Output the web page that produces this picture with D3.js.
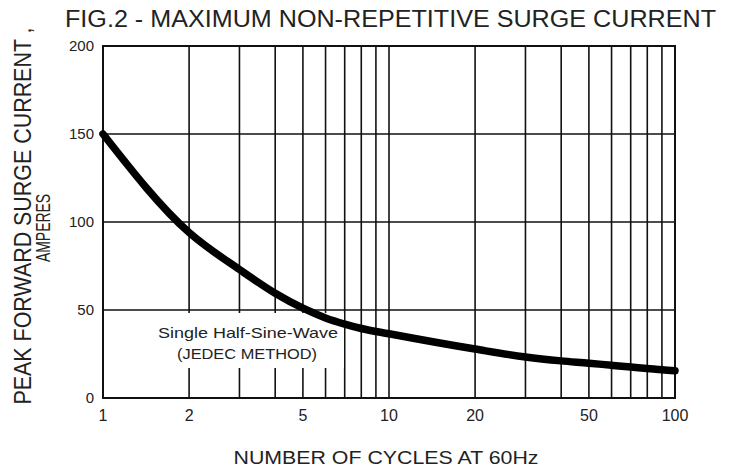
<!DOCTYPE html>
<html>
<head>
<meta charset="utf-8">
<script src="https://cdn.jsdelivr.net/npm/d3@7"></script>
<style>
  body { margin: 0; background: #fff; }
  svg text { font-family: "Liberation Sans", Arial, sans-serif; fill: #222; }
</style>
</head>
<body>
<div class="chart-wrapper"></div>
<script>
// curve
const cycles = [1, 2, 3, 4, 5, 6, 7, 8, 10, 20, 30, 40, 50, 60, 70, 80, 90, 100];
const amps = [150, 94, 73, 59.5, 51, 45.5, 42, 39.5, 36.5, 27.8, 23.3, 21.1, 19.8, 18.6, 17.6, 16.8, 16, 15.5];

const xGrid = [2, 3, 4, 5, 6, 7, 8, 9, 10, 20, 30, 40, 50, 60, 70, 80, 90];
const xLabels = [1, 2, 5, 10, 20, 50, 100];
const yTicks = [0, 50, 100, 150, 200];

const width = 738, height = 473;
const margin = { top: 46, right: 63, bottom: 75, left: 103 };
const w = width - margin.left - margin.right,
  h = height - margin.top - margin.bottom;

const svg = d3.select('.chart-wrapper')
  .append('svg')
  .attr('width', width)
  .attr('height', height);

const x = d3.scaleLog().domain([1, 100]).range([0, w]);
const y = d3.scaleLinear().domain([0, 200]).range([h, 0]);

const g = svg.append('g')
  .attr('transform', 'translate(' + margin.left + ',' + margin.top + ')');

// grid
g.append('g')
  .selectAll('line')
  .data(xGrid)
  .enter()
  .append('line')
  .attr('x1', d => x(d)).attr('x2', d => x(d))
  .attr('y1', 0).attr('y2', h)
  .attr('stroke', '#111')
  .attr('stroke-width', 1.6);

g.append('g')
  .selectAll('line')
  .data(yTicks.slice(1, -1))
  .enter()
  .append('line')
  .attr('x1', 0).attr('x2', w)
  .attr('y1', d => y(d)).attr('y2', d => y(d))
  .attr('stroke', '#111')
  .attr('stroke-width', 1.6);

// note box hides the grid behind it
g.append('rect')
  .attr('x', 150 - margin.left)
  .attr('y', 313 - margin.top)
  .attr('width', 194)
  .attr('height', 55)
  .attr('fill', '#fff');

g.append('text')
  .attr('x', 248 - margin.left)
  .attr('y', 338 - margin.top)
  .attr('text-anchor', 'middle')
  .attr('font-size', 15)
  .attr('textLength', 180)
  .attr('lengthAdjust', 'spacingAndGlyphs')
  .text('Single Half-Sine-Wave');

g.append('text')
  .attr('x', 247 - margin.left)
  .attr('y', 359 - margin.top)
  .attr('text-anchor', 'middle')
  .attr('font-size', 15)
  .attr('textLength', 140)
  .attr('lengthAdjust', 'spacingAndGlyphs')
  .text('(JEDEC METHOD)');

// frame
g.append('rect')
  .attr('width', w)
  .attr('height', h)
  .attr('fill', 'none')
  .attr('stroke', '#111')
  .attr('stroke-width', 2);

// curve
const line = d3.line()
  .x((d, i) => x(cycles[i]))
  .y(d => y(d))
  .curve(d3.curveMonotoneX);

g.append('path')
  .datum(amps)
  .attr('d', line)
  .attr('fill', 'none')
  .attr('stroke', '#000')
  .attr('stroke-width', 7.5)
  .attr('stroke-linecap', 'round');

// tick labels
g.append('g')
  .selectAll('text')
  .data(yTicks)
  .enter()
  .append('text')
  .attr('x', -9)
  .attr('y', d => y(d))
  .attr('dy', '0.35em')
  .attr('text-anchor', 'end')
  .attr('font-size', 15)
  .text(d => d);

g.append('g')
  .selectAll('text')
  .data(xLabels)
  .enter()
  .append('text')
  .attr('x', d => x(d))
  .attr('y', h + 23)
  .attr('text-anchor', 'middle')
  .attr('font-size', 16)
  .text(d => d);

// titles
svg.append('text')
  .attr('x', 65)
  .attr('y', 27)
  .attr('font-size', 23)
  .attr('textLength', 651)
  .attr('lengthAdjust', 'spacingAndGlyphs')
  .text('FIG.2 - MAXIMUM NON-REPETITIVE SURGE CURRENT');

svg.append('text')
  .attr('x', 386)
  .attr('y', 464)
  .attr('text-anchor', 'middle')
  .attr('font-size', 19)
  .attr('textLength', 305)
  .attr('lengthAdjust', 'spacingAndGlyphs')
  .text('NUMBER OF CYCLES AT 60Hz');

svg.append('text')
  .attr('transform', 'translate(31,216) rotate(-90)')
  .attr('text-anchor', 'middle')
  .attr('font-size', 23)
  .attr('textLength', 377)
  .attr('lengthAdjust', 'spacingAndGlyphs')
  .text('PEAK FORWARD SURGE CURRENT ,');

svg.append('text')
  .attr('transform', 'translate(50,228) rotate(-90)')
  .attr('text-anchor', 'middle')
  .attr('font-size', 20)
  .attr('textLength', 68)
  .attr('lengthAdjust', 'spacingAndGlyphs')
  .text('AMPERES');
</script>
</body>
</html>
